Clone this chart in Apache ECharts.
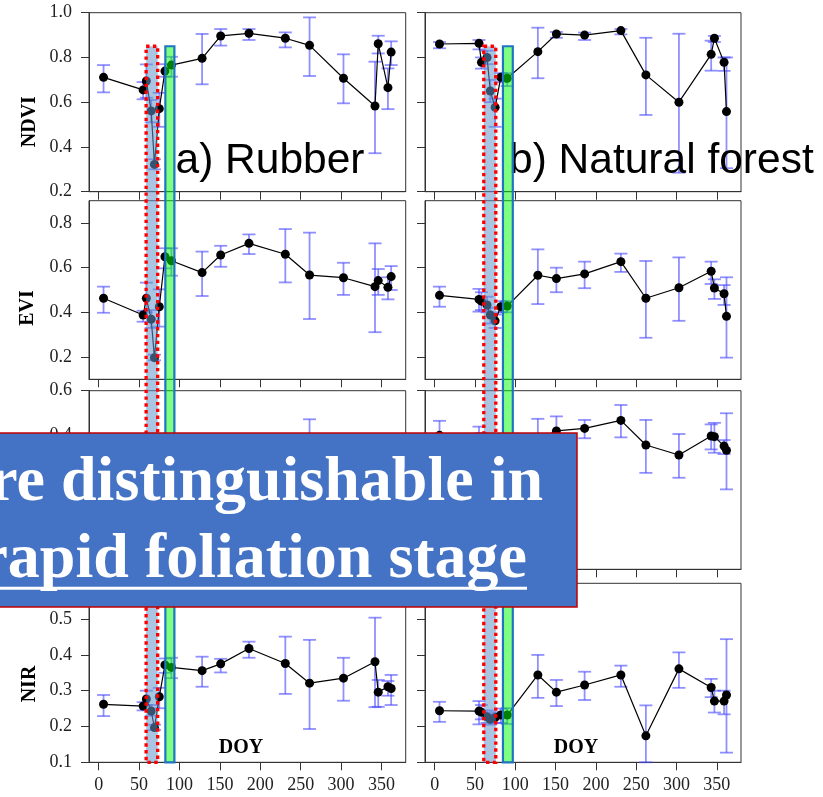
<!DOCTYPE html>
<html><head><meta charset="utf-8">
<script src="https://cdn.jsdelivr.net/npm/echarts@6/dist/echarts.min.js"></script>
<style>html,body{margin:0;padding:0;background:#fff}#c{width:823px;height:797px}</style>
</head><body><div id="c"></div>
<script>
// ---------------- data ----------------
const xTicks = [0, 50, 100, 150, 200, 250, 300, 350];
const rubberDays = [6, 55, 59, 65, 69, 75, 82, 90, 128, 151, 186, 231, 261, 303, 342, 346, 358, 362];
const forestDays = [6, 55, 58, 65, 69, 75, 82, 90, 128, 151, 186, 231, 262, 303, 343, 347, 359, 362];

const ndviRubber   = [0.711, 0.655, 0.695, 0.561, 0.322, 0.571, 0.739, 0.766, 0.796, 0.896, 0.908, 0.886, 0.854, 0.707, 0.583, 0.861, 0.665, 0.824];
const ndviRubberLo = [0.644, 0.613, 0.620, 0.510, 0.300, 0.490, 0.714, 0.714, 0.680, 0.853, 0.878, 0.845, 0.717, 0.595, 0.372, 0.818, 0.569, 0.766];
const ndviRubberHi = [0.766, 0.690, 0.769, 0.610, 0.345, 0.642, 0.770, 0.803, 0.905, 0.927, 0.927, 0.912, 0.979, 0.814, 0.781, 0.897, 0.751, 0.872];
const ndviForest   = [0.860, 0.863, 0.778, 0.800, 0.650, 0.577, 0.711, 0.707, 0.826, 0.905, 0.900, 0.920, 0.722, 0.600, 0.814, 0.886, 0.778, 0.558];
const ndviForestLo = [0.841, 0.836, 0.750, 0.770, 0.600, 0.490, 0.690, 0.672, 0.707, 0.888, 0.878, 0.903, 0.543, 0.285, 0.741, 0.869, 0.740, 0.305];
const ndviForestHi = [0.869, 0.878, 0.800, 0.830, 0.700, 0.616, 0.730, 0.730, 0.933, 0.914, 0.911, 0.927, 0.888, 0.906, 0.875, 0.896, 0.800, 0.800];

const eviRubber   = [0.463, 0.388, 0.463, 0.369, 0.197, 0.425, 0.649, 0.631, 0.578, 0.657, 0.709, 0.660, 0.567, 0.555, 0.515, 0.542, 0.512, 0.560];
const eviRubberLo = [0.398, 0.358, 0.400, 0.330, 0.185, 0.336, 0.597, 0.564, 0.473, 0.604, 0.661, 0.534, 0.370, 0.478, 0.311, 0.478, 0.458, 0.500];
const eviRubberHi = [0.515, 0.407, 0.533, 0.410, 0.210, 0.503, 0.687, 0.687, 0.672, 0.698, 0.749, 0.773, 0.757, 0.622, 0.709, 0.594, 0.557, 0.607];
const eviForest   = [0.476, 0.458, 0.450, 0.433, 0.388, 0.362, 0.425, 0.428, 0.566, 0.551, 0.572, 0.627, 0.463, 0.510, 0.584, 0.509, 0.483, 0.382];
const eviForestLo = [0.425, 0.403, 0.410, 0.400, 0.350, 0.330, 0.400, 0.400, 0.437, 0.490, 0.508, 0.581, 0.286, 0.362, 0.527, 0.460, 0.433, 0.197];
const eviForestHi = [0.515, 0.505, 0.490, 0.470, 0.420, 0.390, 0.450, 0.450, 0.682, 0.600, 0.627, 0.663, 0.630, 0.646, 0.627, 0.548, 0.522, 0.557];

const lswiRubber   = [0.30, 0.26, 0.28, 0.20, 0.05, 0.24, 0.34, 0.33, 0.30, 0.33, 0.35, 0.32, 0.33, 0.28, 0.22, 0.30, 0.27, 0.29];
const lswiRubberLo = [0.25, 0.22, 0.22, 0.15, 0.02, 0.18, 0.30, 0.29, 0.22, 0.29, 0.31, 0.24, 0.19, 0.22, 0.10, 0.25, 0.22, 0.24];
const lswiRubberHi = [0.35, 0.30, 0.33, 0.25, 0.08, 0.30, 0.38, 0.37, 0.38, 0.37, 0.39, 0.40, 0.472, 0.34, 0.34, 0.35, 0.32, 0.34];
const lswiForest   = [0.40, 0.38, 0.37, 0.33, 0.30, 0.32, 0.35, 0.36, 0.38, 0.420, 0.431, 0.467, 0.357, 0.312, 0.397, 0.394, 0.352, 0.333];
const lswiForestLo = [0.34, 0.32, 0.33, 0.29, 0.27, 0.29, 0.32, 0.33, 0.33, 0.387, 0.387, 0.391, 0.232, 0.210, 0.337, 0.322, 0.316, 0.158];
const lswiForestHi = [0.465, 0.439, 0.41, 0.37, 0.33, 0.35, 0.38, 0.39, 0.474, 0.485, 0.469, 0.536, 0.469, 0.406, 0.449, 0.456, 0.379, 0.499];

const nirRubber   = [0.262, 0.257, 0.277, 0.243, 0.197, 0.283, 0.372, 0.365, 0.356, 0.375, 0.418, 0.376, 0.321, 0.335, 0.381, 0.296, 0.311, 0.306];
const nirRubberLo = [0.229, 0.245, 0.260, 0.230, 0.190, 0.251, 0.350, 0.335, 0.311, 0.351, 0.392, 0.291, 0.193, 0.272, 0.254, 0.255, 0.286, 0.260];
const nirRubberHi = [0.288, 0.268, 0.300, 0.260, 0.205, 0.308, 0.390, 0.392, 0.395, 0.389, 0.437, 0.451, 0.442, 0.392, 0.504, 0.330, 0.327, 0.344];
const nirForest   = [0.244, 0.243, 0.240, 0.227, 0.220, 0.225, 0.232, 0.232, 0.344, 0.296, 0.316, 0.344, 0.174, 0.361, 0.309, 0.271, 0.271, 0.288];
const nirForestLo = [0.213, 0.206, 0.220, 0.210, 0.205, 0.210, 0.210, 0.207, 0.280, 0.257, 0.274, 0.311, 0.100, 0.308, 0.282, 0.239, 0.234, 0.127];
const nirForestHi = [0.269, 0.271, 0.260, 0.245, 0.235, 0.240, 0.250, 0.251, 0.400, 0.330, 0.353, 0.370, 0.259, 0.407, 0.333, 0.300, 0.300, 0.444];

// highlighted periods (DOY ranges)
const rubberFallBand = [58.7, 73.0];
const rubberFoliationBand = [82.5, 93.7];
const forestFallBand = [60.9, 75.8];
const forestFoliationBand = [84.7, 96.9];
const bandTopNDVI = 0.85;

const rowNames = ['NDVI', 'EVI', '', 'NIR'];
const panelTitles = ['a) Rubber', 'b) Natural forest'];
const boxLines = ['re distinguishable in', 'rapid foliation stage'];

// ---------------- layout ----------------
const cols = [{left: 89, width: 316.7}, {left: 425, width: 316}];
const rows = [{top: 12.7, height: 179}, {top: 200.7, height: 178.6}, {top: 390.7, height: 178.6}, {top: 583.3, height: 179}];
const yDefs = [
  {min: 0.2, max: 1.0, interval: 0.2},
  {min: 0.1, max: 0.9, ticks: [0.2, 0.4, 0.6, 0.8]},
  {min: -0.2, max: 0.6, interval: 0.2},
  {min: 0.1, max: 0.6, interval: 0.1}
];
const panelData = [
  [[rubberDays, ndviRubber, ndviRubberLo, ndviRubberHi], [forestDays, ndviForest, ndviForestLo, ndviForestHi]],
  [[rubberDays, eviRubber, eviRubberLo, eviRubberHi], [forestDays, eviForest, eviForestLo, eviForestHi]],
  [[rubberDays, lswiRubber, lswiRubberLo, lswiRubberHi], [forestDays, lswiForest, lswiForestLo, lswiForestHi]],
  [[rubberDays, nirRubber, nirRubberLo, nirRubberHi], [forestDays, nirForest, nirForestLo, nirForestHi]]
];

const serif = '"Liberation Serif", "Times New Roman", serif';
const sans = '"Liberation Sans", Arial, sans-serif';
const errColor = 'rgba(70,70,255,0.6)';
const grids = [], xAxes = [], yAxes = [], series = [];

function renderErr(params, api) {
  const x = api.value(0);
  const pHi = api.coord([x, api.value(3)]);
  const pLo = api.coord([x, api.value(2)]);
  const w = 6.5;
  const st = {stroke: errColor, lineWidth: 1.8};
  return {type: 'group', children: [
    {type: 'line', shape: {x1: pHi[0], y1: pHi[1], x2: pLo[0], y2: pLo[1]}, style: st},
    {type: 'line', shape: {x1: pHi[0] - w, y1: pHi[1], x2: pHi[0] + w, y2: pHi[1]}, style: st},
    {type: 'line', shape: {x1: pLo[0] - w, y1: pLo[1], x2: pLo[0] + w, y2: pLo[1]}, style: st}
  ]};
}

for (let r = 0; r < 4; r++) {
  for (let c = 0; c < 2; c++) {
    const gi = r * 2 + c;
    grids.push({left: cols[c].left, top: rows[r].top, width: cols[c].width, height: rows[r].height,
      show: true, borderColor: '#333', borderWidth: 1, backgroundColor: 'transparent'});
    xAxes.push({
      type: 'value', gridIndex: gi, min: -12, max: 380,
      axisLine: {show: true, onZero: false, lineStyle: {color: '#333', width: 1}},
      axisTick: {show: true, inside: false, length: 8, customValues: xTicks, lineStyle: {color: '#333'}},
      axisLabel: {show: r === 3, customValues: xTicks, margin: 14, fontFamily: serif, fontSize: 18, color: '#222'},
      splitLine: {show: false}
    });
    const yd = yDefs[r];
    const ya = {
      type: 'value', gridIndex: gi, min: yd.min, max: yd.max,
      axisLine: {show: true, onZero: false, lineStyle: {color: '#333', width: 1}},
      axisTick: {show: true, inside: false, length: 8, lineStyle: {color: '#333'}},
      axisLabel: {show: c === 0, margin: 17, fontFamily: serif, fontSize: 18, color: '#222',
        formatter: v => v.toFixed(1)},
      splitLine: {show: false}
    };
    if (yd.interval) ya.interval = yd.interval;
    if (yd.ticks) { ya.axisTick.customValues = yd.ticks; ya.axisLabel.customValues = yd.ticks; }
    yAxes.push(ya);
    const [days, mean, lo, hi] = panelData[r][c];
    series.push({
      type: 'custom', xAxisIndex: gi, yAxisIndex: gi, renderItem: renderErr, z: 2,
      data: days.map((d, i) => [d, mean[i], lo[i], hi[i]]), encode: {x: 0, y: 1}
    });
    series.push({
      type: 'line', xAxisIndex: gi, yAxisIndex: gi, z: 3,
      data: days.map((d, i) => [d, mean[i]]),
      symbol: 'circle', symbolSize: 9, showSymbol: true,
      itemStyle: {color: '#000'}, lineStyle: {color: '#000', width: 1.2}
    });
  }
}

const chart = echarts.init(document.getElementById('c'), null, {renderer: 'canvas'});
chart.setOption({animation: false, grid: grids, xAxis: xAxes, yAxis: yAxes, series: series});

// ---------------- overlays ----------------
const graphics = [];
const bandSets = [[rubberFallBand, rubberFoliationBand], [forestFallBand, forestFoliationBand]];
for (let c = 0; c < 2; c++) {
  const topIdx = c, botIdx = 6 + c;
  const yTop = chart.convertToPixel({xAxisIndex: topIdx, yAxisIndex: topIdx}, [0, bandTopNDVI])[1];
  const yBot = chart.convertToPixel({xAxisIndex: botIdx, yAxisIndex: botIdx}, [0, yDefs[3].min])[1];
  const [fall, fol] = bandSets[c];
  const px = d => chart.convertToPixel({xAxisIndex: botIdx, yAxisIndex: botIdx}, [d, 0.2])[0];
  const fx0 = px(fall[0]), fx1 = px(fall[1]), gx0 = px(fol[0]), gx1 = px(fol[1]);
  graphics.push({type: 'rect', z: 50, shape: {x: fx0, y: yTop, width: fx1 - fx0, height: yBot - yTop},
    style: {fill: 'rgba(100,150,200,0.55)', stroke: '#ff0000', lineWidth: 3.3, lineDash: [3.4, 3.4]}});
  graphics.push({type: 'rect', z: 50, shape: {x: gx0, y: yTop, width: gx1 - gx0, height: yBot - yTop},
    style: {fill: 'rgba(0,255,0,0.5)', stroke: '#1f74c4', lineWidth: 2.2}});
}
// panel titles
graphics.push({type: 'text', z: 40, x: 175.5, y: 161.5, style: {text: panelTitles[0], fontFamily: sans, fontSize: 42.5, fill: '#000', align: 'left', verticalAlign: 'middle'}});
graphics.push({type: 'text', z: 40, x: 509, y: 161.5, style: {text: panelTitles[1], fontFamily: sans, fontSize: 42.5, fill: '#000', align: 'left', verticalAlign: 'middle'}});
// DOY labels
[241, 576].forEach(x => graphics.push({type: 'text', z: 40, x: x, y: 747.5, style: {text: 'DOY', fontFamily: serif, fontWeight: 'bold', fontSize: 20, fill: '#000', align: 'center', verticalAlign: 'middle'}}));
// row axis names
const nameX = [30.3, 27.8, 30, 30];
const nameY = [121.7, 308, 480, 684];
for (let r = 0; r < 4; r++) {
  if (!rowNames[r]) continue;
  graphics.push({type: 'text', z: 40, x: nameX[r], y: nameY[r], rotation: Math.PI / 2,
    style: {text: rowNames[r], fontFamily: serif, fontWeight: 'bold', fontSize: 20, fill: '#000', align: 'center', verticalAlign: 'middle'}});
}
// callout box
graphics.push({type: 'rect', z: 100, shape: {x: -10, y: 433, width: 587, height: 174},
  style: {fill: '#4472C4', stroke: '#c00000', lineWidth: 1.5}});
graphics.push({type: 'text', z: 101, x: 543, y: 483.4, style: {text: boxLines[0], fontFamily: serif, fontWeight: 'bold', fontSize: 64, fill: '#fff', align: 'right', verticalAlign: 'middle'}});
graphics.push({type: 'text', z: 101, x: 527, y: 560, style: {text: boxLines[1], fontFamily: serif, fontWeight: 'bold', fontSize: 64, fill: '#fff', align: 'right', verticalAlign: 'middle'}});
graphics.push({type: 'line', z: 101, shape: {x1: 0, y1: 588.3, x2: 527, y2: 588.3}, style: {stroke: '#fff', lineWidth: 3}});

chart.setOption({graphic: graphics});
</script></body></html>
